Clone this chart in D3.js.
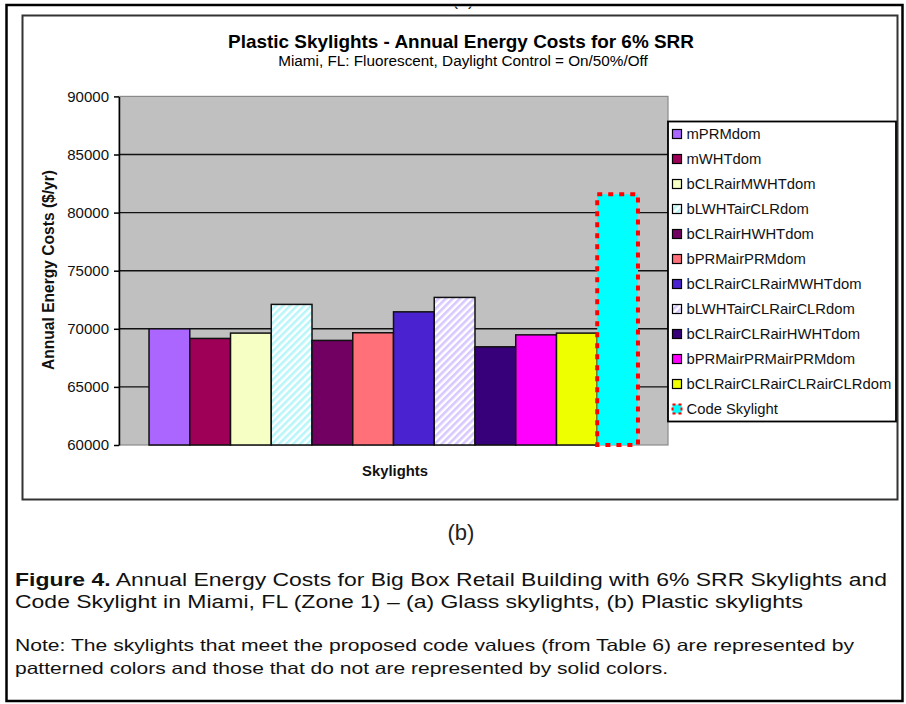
<!DOCTYPE html>
<html>
<head>
<meta charset="utf-8">
<script src="https://cdn.jsdelivr.net/npm/d3@7/dist/d3.min.js"></script>
<style>
  html, body { margin: 0; padding: 0; background: #fff; }
  svg { display: block; font-family: "Liberation Sans", Arial, sans-serif; }
</style>
</head>
<body>
<svg id="chart" width="906" height="704"></svg>
<script>
// Skylight configurations (one bar each, single category cluster)
const categories = [
  "mPRMdom", "mWHTdom", "bCLRairMWHTdom", "bLWHTairCLRdom", "bCLRairHWHTdom",
  "bPRMairPRMdom", "bCLRairCLRairMWHTdom", "bLWHTairCLRairCLRdom",
  "bCLRairCLRairHWHTdom", "bPRMairPRMairPRMdom", "bCLRairCLRairCLRairCLRdom",
  "Code Skylight"
];
// Annual energy costs ($/yr)
const costs = [70000, 69170, 69630, 72100, 69000, 69660, 71460, 72700, 68450, 69480, 69630, 81575];
// Bar colours; patterned entries meet the proposed code values
const fills = ["#aa66ff", "#9e0058", "#f6ffc4", "#b8f6fa", "#720062", "#ff7078",
               "#4a22d0", "#d8c8ff", "#37007a", "#ff00ff", "#eeff00", "#00ffff"];
const patterned = [false, false, false, true, false, false, false, true, false, false, false, false];
const yTicks = [60000, 65000, 70000, 75000, 80000, 85000, 90000];

const svg = d3.select("#chart");
const defs = svg.append("defs");

// fit a text element's natural width to a target by scaling its font size
function fit(sel, target) {
  const fs = parseFloat(sel.attr("font-size"));
  const w = sel.node().getComputedTextLength();
  const nfs = fs * target / w;
  sel.attr("font-size", nfs);
  return nfs;
}

// outer page frame
svg.append("rect").attr("x", 6.5).attr("y", 5).attr("width", 896).attr("height", 696)
  .attr("fill", "#fff").attr("stroke", "#000").attr("stroke-width", 2.5);

// tail of the panel label above, cut by the frame
defs.append("clipPath").attr("id", "topclip")
  .append("rect").attr("x", 0).attr("y", 6.5).attr("width", 906).attr("height", 10);
svg.append("text").attr("clip-path", "url(#topclip)")
  .attr("x", 463).attr("y", 5).attr("text-anchor", "middle")
  .attr("font-size", 18).attr("fill", "#222").text("(a)");

// chart frame
svg.append("rect").attr("x", 22.5).attr("y", 15.5).attr("width", 875).attr("height", 484)
  .attr("fill", "#fff").attr("stroke", "#333").attr("stroke-width", 2);

// hatch patterns
patterned.forEach((p, i) => {
  if (!p) return;
  const pat = defs.append("pattern").attr("id", "hatch" + i)
    .attr("patternUnits", "userSpaceOnUse").attr("width", 5).attr("height", 5)
    .attr("patternTransform", "rotate(45)");
  pat.append("rect").attr("width", 5).attr("height", 5).attr("fill", "#fff");
  pat.append("rect").attr("width", 2.6).attr("height", 5).attr("fill", fills[i]);
});
const fillOf = i => patterned[i] ? "url(#hatch" + i + ")" : fills[i];

// titles
const t1 = svg.append("text").attr("x", 461).attr("y", 48).attr("text-anchor", "middle")
  .attr("font-size", 15).attr("font-weight", "bold").attr("fill", "#000")
  .text("Plastic Skylights - Annual Energy Costs for 6% SRR");
fit(t1, 466);
const t2 = svg.append("text").attr("x", 463).attr("y", 66).attr("text-anchor", "middle")
  .attr("font-size", 12).attr("fill", "#000")
  .text("Miami, FL: Fluorescent, Daylight Control = On/50%/Off");
fit(t2, 370);

// plot area
const plot = { left: 119, right: 668, top: 96.4, bottom: 445 };
const y = d3.scaleLinear().domain([60000, 90000]).range([plot.bottom, plot.top]);
const x = d3.scaleBand().domain(categories).range([plot.left, plot.right])
  .paddingInner(0).paddingOuter(0.737);

svg.append("rect").attr("x", plot.left).attr("y", plot.top)
  .attr("width", plot.right - plot.left).attr("height", plot.bottom - plot.top)
  .attr("fill", "#c0c0c0").attr("stroke", "#8a8a8a").attr("stroke-width", 1.2);

// gridlines
svg.append("g").selectAll("line").data(yTicks.filter(v => v > 60000 && v < 90000)).join("line")
  .attr("x1", plot.left).attr("x2", plot.right)
  .attr("y1", d => y(d)).attr("y2", d => y(d))
  .attr("stroke", "#111").attr("stroke-width", 1.4);

// bars
const bars = svg.append("g");
bars.selectAll("rect").data(categories).join("rect")
  .attr("x", d => x(d)).attr("width", x.bandwidth())
  .attr("y", (d, i) => y(costs[i])).attr("height", (d, i) => y(60000) - y(costs[i]))
  .attr("fill", (d, i) => fillOf(i))
  .attr("stroke", (d, i) => i === 11 ? "none" : "#111")
  .attr("stroke-width", 1.5);

// code skylight outlined with a red dotted border
const codeIdx = categories.length - 1;
bars.append("rect")
  .attr("x", x(categories[codeIdx])).attr("width", x.bandwidth())
  .attr("y", y(costs[codeIdx])).attr("height", y(60000) - y(costs[codeIdx]))
  .attr("fill", "none").attr("stroke", "#ff0000").attr("stroke-width", 4)
  .attr("stroke-dasharray", "5,6");

// y axis
const yAxis = svg.append("g").attr("transform", `translate(${plot.left},0)`)
  .call(d3.axisLeft(y).tickValues(yTicks).tickFormat(d3.format("d")).tickSize(5).tickPadding(5).tickSizeOuter(0));
yAxis.select(".domain").attr("stroke", "#000").attr("stroke-width", 1.5);
yAxis.selectAll(".tick line").attr("stroke", "#000").attr("stroke-width", 1.5);
yAxis.selectAll(".tick text").attr("font-size", 15).attr("fill", "#111")
  .attr("font-family", "Liberation Sans, Arial, sans-serif");

// axis titles
const yt = svg.append("text").attr("transform", "translate(54,270) rotate(-90)")
  .attr("text-anchor", "middle").attr("font-size", 13).attr("font-weight", "bold").attr("fill", "#111")
  .text("Annual Energy Costs ($/yr)");
fit(yt, 200);
const xt = svg.append("text").attr("x", 395).attr("y", 476).attr("text-anchor", "middle")
  .attr("font-size", 12).attr("font-weight", "bold").attr("fill", "#111").text("Skylights");
fit(xt, 66);

// legend
const lg = svg.append("g");
lg.append("rect").attr("x", 668).attr("y", 121.5).attr("width", 228).attr("height", 300)
  .attr("fill", "#fff").attr("stroke", "#000").attr("stroke-width", 1.8);
const rows = lg.selectAll("g.row").data(categories).join("g").attr("class", "row")
  .attr("transform", (d, i) => `translate(0,${134 + i * 25})`);
rows.append("rect").attr("x", 672.5).attr("y", -4.5).attr("width", 9).attr("height", 9)
  .attr("fill", (d, i) => fillOf(i))
  .attr("stroke", (d, i) => i === codeIdx ? "none" : "#000").attr("stroke-width", 1.2);
const codeRow = rows.filter((d, i) => i === codeIdx);
codeRow.append("rect").attr("x", 672.5).attr("y", -4.5).attr("width", 9).attr("height", 9)
  .attr("fill", "none").attr("stroke", "#ff0000").attr("stroke-width", 2).attr("stroke-dasharray", "3,3");
const labels = rows.append("text").attr("x", 686.5).attr("y", 5)
  .attr("font-size", 14).attr("fill", "#111").text(d => d);
const longest = labels.filter(d => d === "bCLRairCLRairCLRairCLRdom");
const lfs = fit(longest, 205);
labels.attr("font-size", lfs);

// panel label and caption
svg.append("text").attr("x", 461).attr("y", 540).attr("text-anchor", "middle")
  .attr("font-size", 22).attr("fill", "#222").text("(b)");

const cap1 = svg.append("text").attr("x", 15).attr("y", 586).attr("font-size", 17.5).attr("fill", "#111")
  .attr("textLength", 872).attr("lengthAdjust", "spacingAndGlyphs");
cap1.append("tspan").attr("font-weight", "bold").text("Figure 4.");
cap1.append("tspan").text(" Annual Energy Costs for Big Box Retail Building with 6% SRR Skylights and");
svg.append("text").attr("x", 15).attr("y", 608).attr("font-size", 17.5).attr("fill", "#111")
  .attr("textLength", 788).attr("lengthAdjust", "spacingAndGlyphs")
  .text("Code Skylight in Miami, FL (Zone 1) \u2013 (a) Glass skylights, (b) Plastic skylights");

svg.append("text").attr("x", 15).attr("y", 651).attr("font-size", 16.5).attr("fill", "#111")
  .attr("textLength", 839).attr("lengthAdjust", "spacingAndGlyphs")
  .text("Note: The skylights that meet the proposed code values (from Table 6) are represented by");
svg.append("text").attr("x", 15).attr("y", 674).attr("font-size", 16.5).attr("fill", "#111")
  .attr("textLength", 653).attr("lengthAdjust", "spacingAndGlyphs")
  .text("patterned colors and those that do not are represented by solid colors.");
</script>
</body>
</html>
